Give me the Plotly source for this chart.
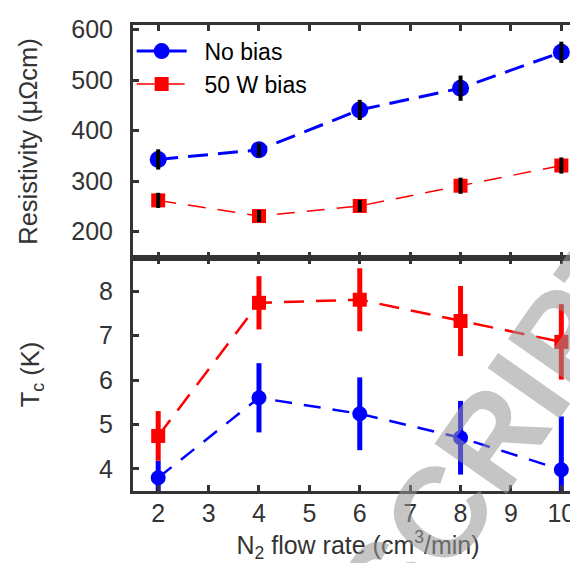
import plotly.graph_objects as go
from plotly.subplots import make_subplots

flow = [2, 4, 6, 8, 10]
x_ticks = [2, 3, 4, 5, 6, 7, 8, 9, 10]

# Resistivity (µΩcm)
res_nobias = [343, 362, 441, 484, 555]
res_nobias_err = [20, 14, 20, 25, 21]
res_bias = [262, 231, 251, 291, 331]
res_bias_err = [15, 12, 12, 16, 16]

# Tc (K)
tc_nobias = [3.80, 5.60, 5.24, 4.70, 3.98]
tc_nobias_err = [0.38, 0.78, 0.82, 0.83, 1.2]
tc_bias = [4.74, 7.74, 7.81, 7.33, 6.86]
tc_bias_err = [0.56, 0.60, 0.71, 0.79, 0.85]

BLUE = "#0000ff"
RED = "#ff0000"
AX = "#333333"
FONT = "Liberation Sans, Arial, sans-serif"
FS = 25
FT = 25.5

fig = make_subplots(rows=2, cols=1, shared_xaxes=True, vertical_spacing=0)

# ---- top panel: resistivity
fig.add_trace(go.Scatter(
    x=flow, y=res_nobias, mode="lines+markers", name="\u00a0\u00a0No bias",
    line=dict(color=BLUE, width=3, dash="20px,10px"),
    marker=dict(symbol="circle", size=17, color=BLUE)), row=1, col=1)
fig.add_trace(go.Scatter(
    x=flow, y=res_bias, mode="lines+markers", name="\u00a0\u00a050 W bias",
    line=dict(color=RED, width=1.5, dash="18px,12px"),
    marker=dict(symbol="square", size=14, color=RED)), row=1, col=1)
for ys, es in [(res_nobias, res_nobias_err), (res_bias, res_bias_err)]:
    fig.add_trace(go.Scatter(
        x=flow, y=ys, mode="markers", showlegend=False, hoverinfo="skip",
        marker=dict(size=1, opacity=0),
        error_y=dict(type="data", array=es, color="black", thickness=4, width=0)),
        row=1, col=1)

# ---- bottom panel: Tc
fig.add_trace(go.Scatter(
    x=flow, y=tc_nobias, mode="lines+markers", showlegend=False,
    line=dict(color=BLUE, width=2.5, dash="17px,12px"),
    marker=dict(symbol="circle", size=15, color=BLUE),
    error_y=dict(type="data", array=tc_nobias_err, color=BLUE, thickness=5, width=0)),
    row=2, col=1)
fig.add_trace(go.Scatter(
    x=flow, y=tc_bias, mode="lines+markers", showlegend=False,
    line=dict(color=RED, width=2.5, dash="20px,12px"),
    marker=dict(symbol="square", size=14, color=RED),
    error_y=dict(type="data", array=tc_bias_err, color=RED, thickness=5, width=0)),
    row=2, col=1)

axis_common = dict(
    showline=True, linewidth=3, linecolor=AX, mirror="allticks",
    ticks="inside", ticklen=6, tickwidth=2.5, tickcolor=AX,
    showgrid=False, zeroline=False,
    tickfont=dict(family=FONT, size=FS, color=AX),
)

fig.update_xaxes(range=[1.5, 10.43], tickvals=x_ticks, **axis_common)
fig.update_xaxes(showticklabels=False, row=1, col=1)
fig.update_xaxes(
    title=dict(text="N<sub>2</sub> flow rate (cm<sup>3</sup>/min)",
               font=dict(family=FONT, size=25, color=AX), standoff=0),
    ticklabelstandoff=-2,
    row=2, col=1)

fig.update_yaxes(range=[148, 609], tickvals=[200, 300, 400, 500, 600],
                 ticklabelstandoff=12,
                 title=dict(text="Resistivity (μΩcm)",
                            font=dict(family=FONT, size=FT, color=AX), standoff=27),
                 row=1, col=1, **axis_common)
fig.update_yaxes(range=[3.5, 8.75], tickvals=[4, 5, 6, 7, 8],
                 ticklabelstandoff=12,
                 title=dict(text="T<sub>c</sub> (K)",
                            font=dict(family=FONT, size=FT, color=AX), standoff=53),
                 row=2, col=1, **axis_common)

# watermark
fig.add_annotation(
    text="<b>SCRIPT</b>", xref="paper", yref="paper", x=0.81, y=0.133,
    xanchor="center", yanchor="middle", showarrow=False, textangle=-55,
    font=dict(family=FONT, size=128, color="rgba(150,150,150,0.55)"))

fig.update_layout(
    width=578, height=563,
    margin=dict(l=125, r=0, t=17, b=80),
    paper_bgcolor="white", plot_bgcolor="white",
    showlegend=True,
    legend=dict(x=-0.003, y=0.99, xanchor="left", yanchor="top",
                bgcolor="rgba(0,0,0,0)", font=dict(family=FONT, size=23, color="black"),
                itemwidth=50, tracegroupgap=0),
)

fig.write_html("out.html")
